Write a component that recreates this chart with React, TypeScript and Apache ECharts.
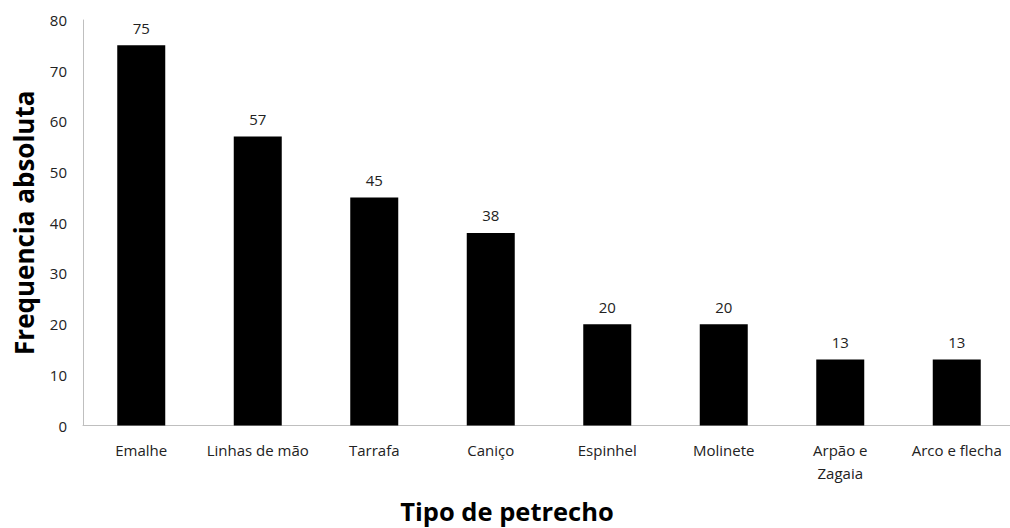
import React, { useEffect, useRef } from "react";
import * as echarts from "echarts";

const categories = ["Emalhe", "Linhas de mão", "Tarrafa", "Caniço", "Espinhel", "Molinete", "Arpão e\nZagaia", "Arco e flecha"];
const values = [75, 57, 45, 38, 20, 20, 13, 13];
const yTicks = { min: 0, max: 80, interval: 10 };
const yTitle = "Frequencia absoluta";
const xTitle = "Tipo de petrecho";

export default function App() {
  const ref = useRef<HTMLDivElement>(null);
  useEffect(() => {
    document.body.style.margin = "0";
    const chart = echarts.init(ref.current!, null, { renderer: "svg" });
    const font = "'Open Sans', sans-serif";
    chart.setOption({
      animation: false,
      backgroundColor: "#ffffff",
      grid: { left: 83, top: 20, width: 932, bottom: 102.5, containLabel: false, outerBoundsMode: "none" },
      xAxis: {
        type: "category",
        data: categories,
        axisLine: { lineStyle: { color: "#bfbfbf", width: 1 } },
        axisTick: { show: false },
        axisLabel: { color: "#222", fontFamily: font, fontSize: 15, margin: 13, lineHeight: 23, interval: 0 },
        name: xTitle,
        nameLocation: "middle",
        nameGap: 72,
        nameTextStyle: { color: "#000", fontFamily: font, fontSize: 25.5, fontWeight: "bold", padding: [0, 84, 0, 0] },
      },
      yAxis: {
        type: "value",
        min: yTicks.min,
        max: yTicks.max,
        interval: yTicks.interval,
        axisLine: { show: true, lineStyle: { color: "#bfbfbf", width: 1 } },
        axisTick: { show: false },
        splitLine: { show: false },
        axisLabel: { color: "#222", fontFamily: font, fontSize: 15, margin: 16 },
        name: yTitle,
        nameLocation: "middle",
        nameGap: 46,
        nameRotate: 90,
        nameTextStyle: { color: "#000", fontFamily: font, fontSize: 26, fontWeight: "bold" },
      },
      series: [
        {
          type: "bar",
          data: values,
          barWidth: 48,
          itemStyle: { color: "#000000" },
          label: { show: true, position: "top", distance: 10, color: "#222", fontFamily: font, fontSize: 15 },
        },
      ],
    });
    return () => chart.dispose();
  }, []);
  return <div ref={ref} style={{ width: 1010, height: 528 }} />;
}
